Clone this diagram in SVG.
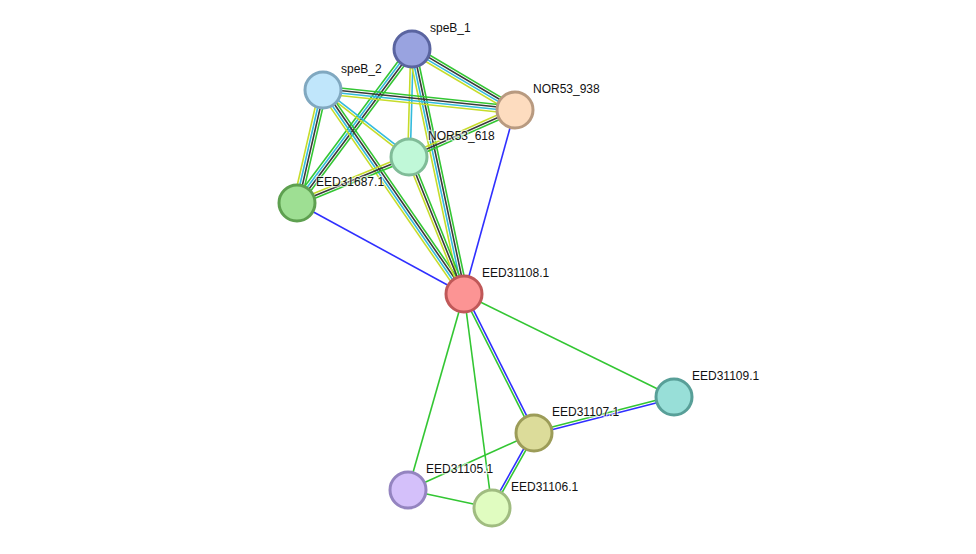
<svg xmlns="http://www.w3.org/2000/svg" width="976" height="554" viewBox="0 0 976 554">
<style>
.e line{stroke-width:1.6;fill:none}
.g{stroke:#33c633}
.b{stroke:#2f2fff}
.c{stroke:#33bbdd}
.k{stroke:#3a3a3a}
.y{stroke:#c6dc2a}
.n{stroke-width:3}
text{font-family:"Liberation Sans",Arial,sans-serif;font-size:12px;fill:#111;stroke:#fff;stroke-width:2.5;stroke-opacity:0.6;paint-order:stroke}
</style>
<rect width="976" height="554" fill="#fff"/>
<g id="connectors" class="e">
  <!-- speB_1 - NOR53_938 -->
  <g transform="translate(412,49) rotate(30.6)">
    <line class="g" x1="0" y1="-3.75" x2="119.7" y2="-3.75"/><line class="k" x1="0" y1="-1.25" x2="119.7" y2="-1.25"/><line class="c" x1="0" y1="1.25" x2="119.7" y2="1.25"/><line class="y" x1="0" y1="3.75" x2="119.7" y2="3.75"/>
  </g>
  <!-- speB_1 - EED31687.1 -->
  <g transform="translate(412,49) rotate(126.75)">
    <line class="g" x1="0" y1="-3.75" x2="192.2" y2="-3.75"/><line class="k" x1="0" y1="-1.25" x2="192.2" y2="-1.25"/><line class="c" x1="0" y1="1.25" x2="192.2" y2="1.25"/><line class="g" x1="0" y1="3.75" x2="192.2" y2="3.75"/>
  </g>
  <!-- speB_1 - NOR53_618 -->
  <g transform="translate(412,49) rotate(91.6)">
    <line class="c" x1="0" y1="-1.25" x2="108" y2="-1.25"/><line class="y" x1="0" y1="1.25" x2="108" y2="1.25"/>
  </g>
  <!-- speB_1 - EED31108.1 -->
  <g transform="translate(412,49) rotate(78.0)">
    <line class="g" x1="0" y1="-3.75" x2="250.5" y2="-3.75"/><line class="k" x1="0" y1="-1.25" x2="250.5" y2="-1.25"/><line class="c" x1="0" y1="1.25" x2="250.5" y2="1.25"/><line class="y" x1="0" y1="3.75" x2="250.5" y2="3.75"/>
  </g>
  <!-- speB_2 - NOR53_938 -->
  <g transform="translate(323,90) rotate(5.95)">
    <line class="g" x1="0" y1="-3.75" x2="193" y2="-3.75"/><line class="k" x1="0" y1="-1.25" x2="193" y2="-1.25"/><line class="c" x1="0" y1="1.25" x2="193" y2="1.25"/><line class="y" x1="0" y1="3.75" x2="193" y2="3.75"/>
  </g>
  <!-- speB_2 - EED31687.1 -->
  <g transform="translate(323,90) rotate(102.96)">
    <line class="g" x1="0" y1="-3.75" x2="116" y2="-3.75"/><line class="k" x1="0" y1="-1.25" x2="116" y2="-1.25"/><line class="c" x1="0" y1="1.25" x2="116" y2="1.25"/><line class="y" x1="0" y1="3.75" x2="116" y2="3.75"/>
  </g>
  <!-- speB_2 - NOR53_618 -->
  <g transform="translate(323,90) rotate(37.9)">
    <line class="c" x1="0" y1="-1.25" x2="109" y2="-1.25"/><line class="y" x1="0" y1="1.25" x2="109" y2="1.25"/>
  </g>
  <!-- speB_2 - EED31108.1 -->
  <g transform="translate(323,90) rotate(55.35)">
    <line class="g" x1="0" y1="-3.75" x2="248" y2="-3.75"/><line class="k" x1="0" y1="-1.25" x2="248" y2="-1.25"/><line class="c" x1="0" y1="1.25" x2="248" y2="1.25"/><line class="y" x1="0" y1="3.75" x2="248" y2="3.75"/>
  </g>
  <!-- NOR53_938 - NOR53_618 -->
  <g transform="translate(515,110) rotate(156.1)">
    <line class="g" x1="0" y1="-2.5" x2="116" y2="-2.5"/><line class="k" x1="0" y1="0" x2="116" y2="0"/><line class="y" x1="0" y1="2.5" x2="116" y2="2.5"/>
  </g>
  <!-- NOR53_618 - EED31687.1 -->
  <g transform="translate(409,157) rotate(157.7)">
    <line class="g" x1="0" y1="-2.5" x2="121.1" y2="-2.5"/><line class="k" x1="0" y1="0" x2="121.1" y2="0"/><line class="y" x1="0" y1="2.5" x2="121.1" y2="2.5"/>
  </g>
  <!-- NOR53_618 - EED31108.1 -->
  <g transform="translate(409,157) rotate(68.1)">
    <line class="g" x1="0" y1="-2.5" x2="147.6" y2="-2.5"/><line class="k" x1="0" y1="0" x2="147.6" y2="0"/><line class="y" x1="0" y1="2.5" x2="147.6" y2="2.5"/>
  </g>
  <line class="b" x1="515" y1="110" x2="464" y2="294"/>
  <line class="b" x1="297" y1="203" x2="464" y2="294"/>
  <line class="g" x1="464" y1="294" x2="674" y2="397"/>
  <line class="g" x1="464" y1="294" x2="408" y2="490"/>
  <line class="g" x1="464" y1="294" x2="492" y2="508"/>
  <!-- EED31108.1 - EED31107.1 -->
  <g transform="translate(464,294) rotate(63.3)">
    <line class="b" x1="0" y1="-1.25" x2="155.6" y2="-1.25"/><line class="g" x1="0" y1="1.25" x2="155.6" y2="1.25"/>
  </g>
  <!-- EED31107.1 - EED31109.1 -->
  <g transform="translate(534,433) rotate(-14.4)">
    <line class="g" x1="0" y1="-1.25" x2="144.6" y2="-1.25"/><line class="b" x1="0" y1="1.25" x2="144.6" y2="1.25"/>
  </g>
  <!-- EED31107.1 - EED31106.1 -->
  <g transform="translate(534,433) rotate(119.25)">
    <line class="g" x1="0" y1="-1.25" x2="86" y2="-1.25"/><line class="b" x1="0" y1="1.25" x2="86" y2="1.25"/>
  </g>
  <line class="g" x1="534" y1="433" x2="408" y2="490"/>
  <line class="g" x1="408" y1="490" x2="492" y2="508"/>
</g>
<g id="speB_1"><circle class="n" cx="412" cy="49" r="18" fill="#99a3e0" stroke="#5a64a0"/><text x="430" y="32">speB_1</text></g>
<g id="speB_2"><circle class="n" cx="323" cy="90" r="18" fill="#c0e6fb" stroke="#80a8c0"/><text x="341" y="73">speB_2</text></g>
<g id="NOR53_938"><circle class="n" cx="515" cy="110" r="18" fill="#fddcbf" stroke="#b89a80"/><text x="533" y="93">NOR53_938</text></g>
<g id="NOR53_618"><circle class="n" cx="409" cy="157" r="18" fill="#c0f8d8" stroke="#80bc98"/><text x="428" y="140">NOR53_618</text></g>
<g id="EED31687.1"><circle class="n" cx="297" cy="203" r="18" fill="#9edf93" stroke="#5ea050"/><text x="316" y="186">EED31687.1</text></g>
<g id="EED31108.1"><circle class="n" cx="464" cy="294" r="18" fill="#fc9494" stroke="#c05858"/><text x="482" y="277">EED31108.1</text></g>
<g id="EED31109.1"><circle class="n" cx="674" cy="397" r="18" fill="#98dfd8" stroke="#589f98"/><text x="692" y="380">EED31109.1</text></g>
<g id="EED31107.1"><circle class="n" cx="534" cy="433" r="18" fill="#dcdc9a" stroke="#9c9c58"/><text x="552" y="416">EED31107.1</text></g>
<g id="EED31105.1"><circle class="n" cx="408" cy="490" r="18" fill="#d4c0fa" stroke="#9484c0"/><text x="426" y="473">EED31105.1</text></g>
<g id="EED31106.1"><circle class="n" cx="492" cy="508" r="18" fill="#e0fcc0" stroke="#a0bc80"/><text x="511" y="491">EED31106.1</text></g>
</svg>
